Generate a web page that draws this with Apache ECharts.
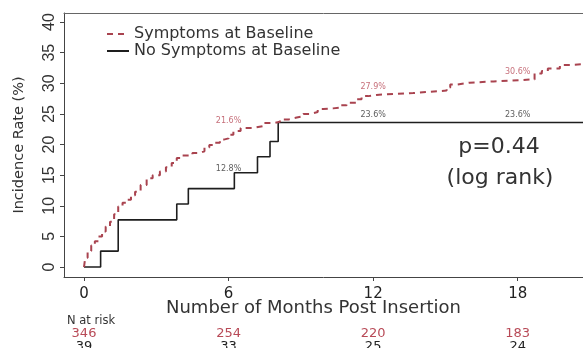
<!DOCTYPE html>
<html>
<head>
<meta charset="utf-8">
<script src="https://cdn.jsdelivr.net/npm/echarts@6/dist/echarts.min.js"></script>
<style>
html,body{margin:0;padding:0;background:#fff;overflow:hidden;}
#chart{width:583px;height:348px;}
</style>
</head>
<body>
<div id="chart"></div>
<script>
// ---- data ----
const seriesNames = ['Symptoms at Baseline', 'No Symptoms at Baseline'];
// Symptoms at baseline (KM cumulative incidence, %)
const symptomsMonths = [0,0.05,0.15,0.3,0.45,0.6,0.75,0.9,1.08,1.25,1.42,1.6,1.77,1.95,2.12,2.35,2.6,2.85,3.15,3.4,3.64,3.85,4.0,4.5,4.8,5.0,5.2,5.44,5.64,5.8,6.0,6.2,6.5,7.02,7.44,7.9,8.13,8.5,8.83,9.1,9.38,9.7,9.93,10.34,10.6,10.9,11.31,11.52,11.8,12.14,13.0,13.66,14.3,15.05,15.2,15.5,16.0,17.0,18.5,18.7,19.0,19.25,19.75,20.2,20.7,21.1];
const symptomsValues = [0,1.5,2.6,3.5,4.2,5.0,5.8,6.6,7.4,8.6,9.9,10.5,11.0,11.7,12.3,13.4,14.5,15.0,15.6,16.3,17.0,17.8,18.2,18.6,18.9,19.5,19.9,20.3,20.8,21.0,21.6,22.2,22.7,23.0,23.5,23.7,24.1,24.4,24.6,25.0,25.3,25.8,25.9,26.0,26.4,26.8,27.4,27.9,28.1,28.3,28.4,28.6,28.8,29.3,29.8,30.1,30.3,30.6,30.6,31.6,32.0,32.4,33.0,33.1,33.3,33.4];
// No symptoms at baseline
const noSymptomsMonths = [0,0.69,1.42,3.85,4.33,6.24,7.2,7.72,8.06,21.1];
const noSymptomsValues = [0,2.6,7.7,10.3,12.8,15.4,18.0,20.5,23.6,23.6];
// annotations
const annotMonths = [6,6,12,12,18,18];
const annotValues = [21.6,12.8,27.9,23.6,30.6,23.6];
const annotTexts = ['21.6%','12.8%','27.9%','23.6%','30.6%','23.6%'];
const annotGroup = [0,1,0,1,0,1];
// axes
const xTicks = [0,6,12,18];
const yTicks = [0,5,10,15,20,25,30,35,40];
// numbers at risk
const riskMonths = [0,6,12,18];
const atRiskSymptoms = [346,254,220,183];
const atRiskNoSymptoms = [39,33,25,24];
const pText = ['p=0.44','(log rank)'];

// ---- styles ----
const RED = '#a9434f';
const RED_TEXT = '#b84a57';
const BLACK = '#1e1e1e';
const FONT = 'DejaVu Sans';
const annotOffsets = [[0,-14],[0,-20],[0,-9],[0,-8],[0,-8],[0,-8]];

const chart = echarts.init(document.getElementById('chart'), null, {renderer:'canvas'});

const sData = symptomsMonths.map((m,i)=>[m, symptomsValues[i]]);
const nData = noSymptomsMonths.map((m,i)=>[m, noSymptomsValues[i]]);
const annData = annotMonths.map((m,i)=>({
  value:[m, annotValues[i]],
  label:{
    show:true, formatter: annotTexts[i], position:'inside', offset: annotOffsets[i],
    color: annotGroup[i]===0 ? RED_TEXT : '#333', fontSize:8, fontFamily:FONT
  }
}));

const X_MIN = -0.83, X_MAX = 20.71;

chart.setOption({
  animation:false,
  backgroundColor:'#fff',
  grid:{left:64, top:13, right:0, bottom:71, show:false},
  legend:{
    orient:'vertical', left:101, top:21, itemWidth:22, itemHeight:14, itemGap:1,
    textStyle:{fontFamily:FONT, fontSize:16, color:'#333'},
    itemStyle:{opacity:0},
    data:seriesNames
  },
  xAxis:[{
    type:'value', min:X_MIN, max:X_MAX,
    name:'Number of Months Post Insertion', nameLocation:'middle', nameGap:22, nameMoveOverlap:false,
    nameTextStyle:{fontFamily:FONT, fontSize:18, color:'#333', padding:[0,20,0,0]},
    axisLine:{show:true, onZero:false, lineStyle:{color:'#444', width:1}},
    axisTick:{show:true, length:4, customValues:xTicks, lineStyle:{color:'#444'}},
    axisLabel:{customValues:xTicks, fontFamily:FONT, fontSize:15, color:'#222', margin:10},
    splitLine:{show:false}
  },{
    type:'value', position:'top', min:X_MIN, max:X_MAX,
    axisLine:{show:true, onZero:false, lineStyle:{color:'#666', width:1}},
    axisTick:{show:false}, axisLabel:{show:false}, splitLine:{show:false}
  }],
  yAxis:{
    type:'value', min:-1.63, max:41.47,
    name:'Incidence Rate (%)', nameLocation:'middle', nameGap:37, nameMoveOverlap:false,
    nameTextStyle:{fontFamily:FONT, fontSize:14.5, color:'#333'},
    axisLine:{show:true, onZero:false, lineStyle:{color:'#444', width:1}},
    axisTick:{show:true, length:4, customValues:yTicks, lineStyle:{color:'#444'}},
    axisLabel:{customValues:yTicks, rotate:90, fontFamily:'Liberation Sans', fontSize:16, color:'#333', margin:6},
    splitLine:{show:false}
  },
  series:[
    {
      name:seriesNames[0], type:'line', step:'end', data:sData, symbol:'none',
      lineStyle:{color:RED, width:2, type:[6,5]}, itemStyle:{color:RED}, z:3
    },
    {
      name:seriesNames[1], type:'line', step:'end', data:nData, symbol:'none',
      lineStyle:{color:BLACK, width:1.6}, itemStyle:{color:BLACK}, z:2
    },
    {
      type:'scatter', data:annData, symbolSize:0, silent:true, z:4
    }
  ]
});

// numbers at risk + p-value, positioned through the axis scale
const gfx = [];
gfx.push({type:'text', left:67, top:315, style:{text:'N at risk', font:'11.5px "DejaVu Sans"', fill:'#333'}});
riskMonths.forEach((m,i)=>{
  const px = chart.convertToPixel({xAxisIndex:0}, m);
  gfx.push({type:'text', x:px, y:334, style:{text:String(atRiskSymptoms[i]), font:'13px "DejaVu Sans"', fill:RED_TEXT, align:'center', verticalAlign:'middle'}});
  gfx.push({type:'text', x:px, y:347, style:{text:String(atRiskNoSymptoms[i]), font:'13px "DejaVu Sans"', fill:'#222', align:'center', verticalAlign:'middle'}});
});
gfx.push({type:'text', x:499, y:147, style:{text:pText[0], font:'22px "DejaVu Sans"', fill:'#333', align:'center', verticalAlign:'middle'}});
gfx.push({type:'text', x:500, y:178, style:{text:pText[1], font:'22px "DejaVu Sans"', fill:'#333', align:'center', verticalAlign:'middle'}});
chart.setOption({graphic:gfx});
</script>
</body>
</html>
